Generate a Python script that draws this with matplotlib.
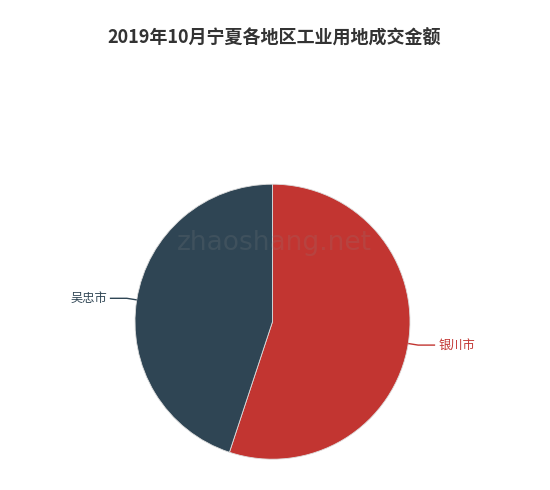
import numpy as np
import matplotlib
matplotlib.use("Agg")
import matplotlib.pyplot as plt

plt.rcParams['font.family'] = ['Noto Sans CJK SC', 'DejaVu Sans']

title = "2019年10月宁夏各地区工业用地成交金额"
categories = ["银川市", "吴忠市"]
values = [55.07, 44.93]
colors = ["#c23531", "#2f4554"]

W, H = 550, 490
fig = plt.figure(figsize=(W / 100, H / 100), dpi=100)
ax = fig.add_axes([0, 0, 1, 1])
ax.set_xlim(0, W)
ax.set_ylim(0, H)
ax.axis('off')

cx, cy, R = 272.5, H - 321.7, 137.5
wedges, _ = ax.pie(values, colors=colors, startangle=90, counterclock=False,
                   center=(cx, cy), radius=R, frame=True,
                   wedgeprops=dict(edgecolor='#dddddd', linewidth=0.6))
ax.set_xlim(0, W)
ax.set_ylim(0, H)
ax.set_aspect('equal')
ax.axis('off')

for w, name, col in zip(wedges, categories, colors):
    mid = np.deg2rad((w.theta1 + w.theta2) / 2)
    ux, uy = np.cos(mid), np.sin(mid)
    x0, y0 = cx + R * ux, cy + R * uy
    x1, y1 = cx + (R + 10) * ux, cy + (R + 10) * uy
    sgn = 1 if ux >= 0 else -1
    x2 = x1 + sgn * 17
    ax.plot([x0, x1, x2], [y0, y1, y1], color=col, lw=1, solid_capstyle='butt')
    ax.text(x2 + sgn * 3, y1, name, color=col, fontsize=8.8,
            ha='left' if sgn > 0 else 'right', va='center')

ax.text(274, H - 243, "zhaoshang.net", fontsize=19, color='#888888', alpha=0.18,
        ha='center', va='center', family=['DejaVu Sans'], zorder=10)

fig.text(274 / W, 1 - 38 / H, title, fontsize=13, fontweight='bold', color='#333333',
         ha='center', va='center')

fig.savefig("out.png", dpi=100, facecolor='white')
